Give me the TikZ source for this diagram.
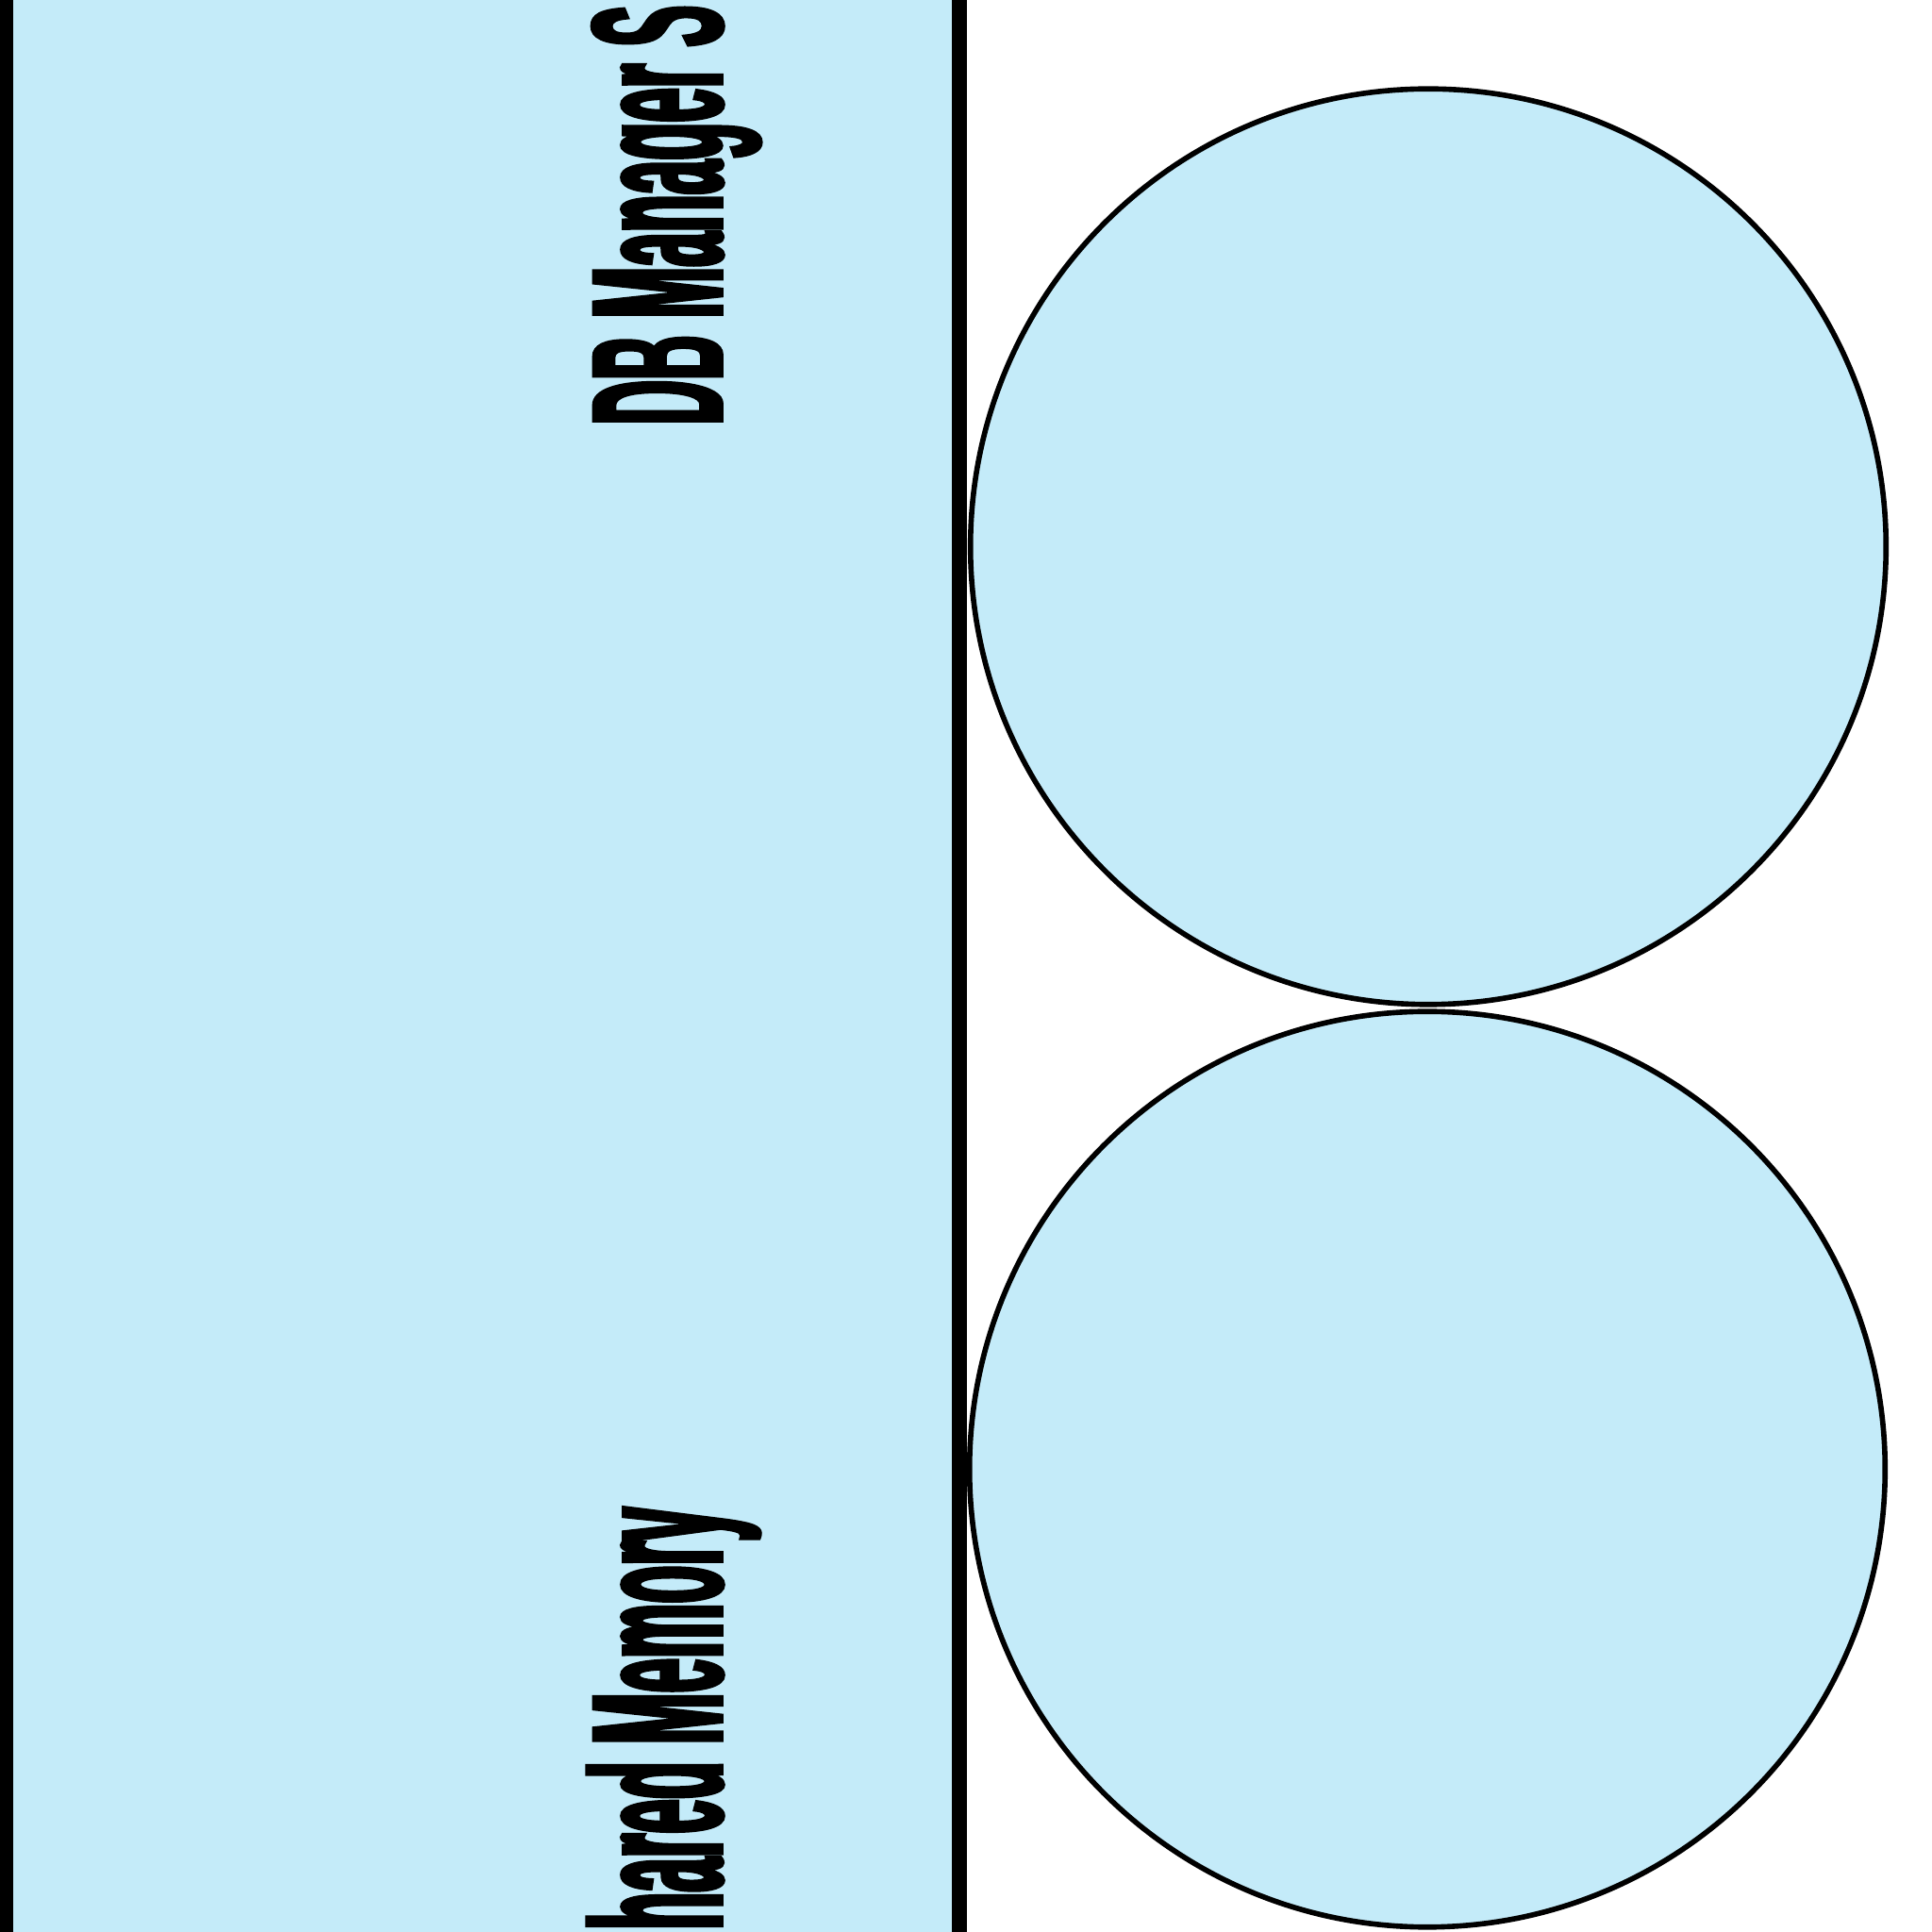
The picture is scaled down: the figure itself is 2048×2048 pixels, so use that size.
\documentclass[tikz,border=0pt]{standalone}
\usepackage{fontspec}
\newfontfamily\labfont{Liberation Sans}[FakeStretch=0.333, BoldFeatures={FakeBold=1.9}]
\definecolor{boxblue}{RGB}{196,235,249}
\tikzset{
  disk/.style={circle, draw=black, fill=boxblue, line width=1.6pt, minimum size=9.7cm, inner sep=0pt},
  vlabel/.style={rotate=90, anchor=base west, inner sep=0pt, font=\labfont\bfseries\fontsize{56}{60}\selectfont},
  panel/.style={draw=black, fill=boxblue, line width=4.55pt}
}
\begin{document}
\begin{tikzpicture}[x=0.01cm, y=0.01cm]
\useasboundingbox (0,0) rectangle (2048,2048);
\clip (0,0) rectangle (2048,2048);
% memory panel (cut by the picture frame)
\path[panel] (6,-60) rectangle (1017,2110);
% disks
\node[disk] (dtop) at (1514,1468.5) {};
\node[disk] (dbot) at (1513,490.5) {};
% labels
\node[vlabel] (lbltop) at (765,1597) {DB Manager S};
\node[vlabel] (lblbot) at (765,1.5) {hared Memory};
\end{tikzpicture}
\end{document}
